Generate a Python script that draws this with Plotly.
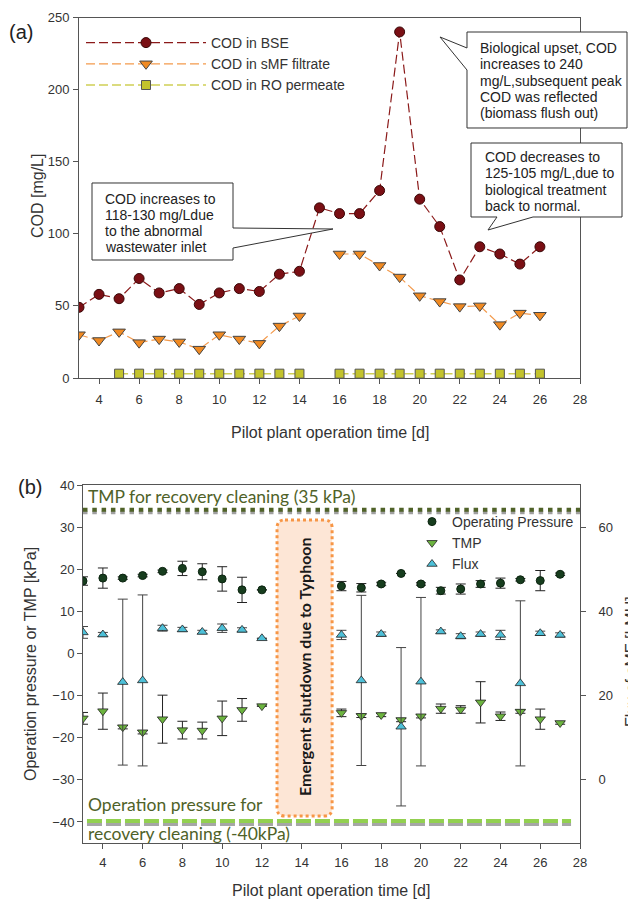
import plotly.graph_objects as go

W, H = 628, 900
FONT = "Liberation Sans, Arial, sans-serif"
CAL = "Lato, Open Sans, sans-serif"

# ---------------- panel (a) data ----------------
days_a = [3, 4, 5, 6, 7, 8, 9, 10, 11, 12, 13, 14, 15, 16, 17, 18, 19, 20, 21, 22, 23, 24, 25, 26]
cod_bse = [49, 58, 55, 69, 59, 62, 51, 59, 62, 60, 72, 74, 118, 114, 114, 130, 240, 124, 105, 68, 91, 86, 79, 91]
cod_smf = [30, 26, 32, 24.5, 27, 25, 20, 30, 27, 24, 36, 43, None, 86, 86, 78, 70, 57, 53, 49.5, 50, 37, 45, 43.5]
cod_ro = [None, None, 3, 3, 3, 3, 3, 3, 3, 3, 3, 3, None, 3, 3, 3, 3, 3, 3, 3, 3, 3, 3, 3]
day_ticks = [4, 6, 8, 10, 12, 14, 16, 18, 20, 22, 24, 26, 28]
cod_ticks = [0, 50, 100, 150, 200, 250]

# ---------------- panel (b) data ----------------
days_b = [3, 4, 5, 6, 7, 8, 9, 10, 11, 12, 16, 17, 18, 19, 20, 21, 22, 23, 24, 25, 26, 27]
op_pressure = [17.2, 17.9, 17.9, 18.5, 19.5, 20.2, 19.4, 17.7, 15.1, 15.1, 16.0, 15.6, 16.5, 19.0, 16.5, 14.9, 15.3, 16.5, 16.7, 17.5, 17.3, 18.8]
op_err = [1.0, 2.4, 0.3, 0.3, 0.3, 1.7, 1.9, 2.9, 3.0, None, 1.1, 1.0, 0.4, None, 0.3, 0.8, 1.2, 0.8, 1.2, 0.3, 2.4, 0.3]
tmp = [-15.4, -13.7, -17.5, -18.7, -15.6, -18.2, -18.3, -15.4, -13.4, -12.5, -14.1, -14.8, -14.6, -15.8, -14.9, -13.1, -13.3, -11.6, -14.9, -13.8, -15.6, -16.5]
tmp_err = [1.4, 4.3, 0.4, 0.4, 5.7, 2.1, 2.0, 4.1, 2.7, None, 0.9, 0.4, 0.4, 0.4, 0.4, 1.1, 0.9, 4.9, 1.0, 0.4, 2.4, 0.3]
flux = [35.0, 34.5, 23.2, 23.6, 36.0, 35.7, 35.1, 36.0, 35.6, 33.6, 34.4, 23.6, 34.6, 12.6, 23.3, 35.2, 34.1, 34.6, 34.4, 22.9, 34.8, 34.4]
flux_err = [1.4, 0.5, 19.7, 20.3, 0.7, 0.5, 0.4, 1.0, 0.5, None, 1.1, 20.2, 0.5, 18.8, 20.0, 0.4, 0.6, 0.5, 1.1, 19.6, 0.5, 0.5]
p_ticks = [-40, -30, -20, -10, 0, 10, 20, 30, 40]
flux_ticks = [0, 20, 40, 60]
tmp_clean_level = 34
op_clean_level = -40
shutdown_days = [12.76, 15.53]
shutdown_span = [-38.6, 31.7]


def px(x):
    return x / W


def py(y):
    return 1 - y / H


fig = go.Figure()

# ---- panel (a) traces ----
fig.add_trace(go.Scatter(
    x=days_a, y=cod_bse, name="COD in BSE", mode="lines+markers",
    line=dict(color="#8b1a1a", width=1.2, dash="9px,4px"),
    marker=dict(symbol="circle", size=10, color="#7a0f14", line=dict(color="#3a0808", width=1)),
    xaxis="x", yaxis="y", legend="legend"))
fig.add_trace(go.Scatter(
    x=days_a, y=cod_smf, name="COD in sMF filtrate", mode="lines+markers",
    line=dict(color="#f39a4c", width=1.2, dash="9px,4px"), connectgaps=False,
    marker=dict(symbol="triangle-down", size=11, color="#f08a22", line=dict(color="#444", width=1)),
    xaxis="x", yaxis="y", legend="legend"))
fig.add_trace(go.Scatter(
    x=days_a, y=cod_ro, name="COD in RO permeate", mode="lines+markers",
    line=dict(color="#cfcf55", width=1.5, dash="9px,4px"), connectgaps=False,
    marker=dict(symbol="square", size=9, color="#c3c32c", line=dict(color="#555", width=1)),
    xaxis="x", yaxis="y", legend="legend"))

# ---- panel (b) traces ----
fig.add_trace(go.Scatter(
    x=days_b, y=op_pressure, name="Operating Pressure", mode="markers",
    marker=dict(symbol="circle", size=8, color="#173d1e", line=dict(color="#0c2410", width=1)),
    error_y=dict(type="data", array=op_err, visible=True, color="#222", thickness=1, width=5),
    xaxis="x2", yaxis="y2", legend="legend2"))
fig.add_trace(go.Scatter(
    x=days_b, y=tmp, name="TMP", mode="markers",
    marker=dict(symbol="triangle-down", size=9, color="#6cb43f", line=dict(color="#222", width=0.8)),
    error_y=dict(type="data", array=tmp_err, visible=True, color="#222", thickness=1, width=5),
    xaxis="x2", yaxis="y2", legend="legend2"))
fig.add_trace(go.Scatter(
    x=days_b, y=flux, name="Flux", mode="markers",
    marker=dict(symbol="triangle-up", size=9, color="#4dc0d8", line=dict(color="#222", width=0.8)),
    error_y=dict(type="data", array=flux_err, visible=True, color="#444", thickness=1, width=5),
    xaxis="x2", yaxis="y3", legend="legend2"))

axis_common = dict(showline=True, linecolor="#555", linewidth=1, ticks="outside", ticklen=5,
                   tickcolor="#555", showgrid=False, zeroline=False, automargin=False,
                   tickfont=dict(family=FONT, size=13, color="#333"))

shapes = []
annotations = []


def label(text, x, y, size=16, angle=0, anchor="center", family=FONT, color="#333"):
    annotations.append(dict(text=text, xref="paper", yref="paper", x=px(x), y=py(y),
                            xanchor=anchor, yanchor="middle", showarrow=False, textangle=angle,
                            font=dict(family=family, size=size, color=color)))


# ---- callouts panel (a) ----
callouts = [
    ([(92, 183), (233, 183), (233, 228), (333, 229), (233, 248), (233, 260), (92, 260)],
     ["COD increases to", "118-130 mg/Ldue", "to the abnormal", "wastewater inlet"], 103, 198.5),
    ([(467, 32), (627, 32), (627, 128), (467, 128), (467, 70), (440, 37), (467, 48)],
     ["Biological upset, COD", "increases to 240", "mg/L,subsequent peak", "COD was reflected", "(biomass flush out)"], 478, 48),
    ([(471, 143), (622, 143), (622, 217), (533, 217), (488, 230), (497, 217), (471, 217)],
     ["COD decreases to", "125-105 mg/L,due to", "biological treatment", "back to normal."], 483, 157),
]
for pts, lines, tx, ty in callouts:
    path = "M " + " L ".join(f"{px(a):.5f},{py(b):.5f}" for a, b in pts) + " Z"
    shapes.append(dict(type="path", xref="paper", yref="paper", path=path,
                       fillcolor="white", line=dict(color="#333", width=1), layer="above"))
    for i, t in enumerate(lines):
        label(t, tx, ty + i * 16.3, size=14, anchor="left", color="#222")

# ---- panel (b) decorations ----
x0, x1 = shutdown_days
y0, y1 = shutdown_span
rx, ry = 0.4, 1.9
rpath = (f"M {x0+rx},{y1} L {x1-rx},{y1} Q {x1},{y1} {x1},{y1-ry} L {x1},{y0+ry} "
         f"Q {x1},{y0} {x1-rx},{y0} L {x0+rx},{y0} Q {x0},{y0} {x0},{y0+ry} "
         f"L {x0},{y1-ry} Q {x0},{y1} {x0+rx},{y1} Z")
shapes.append(dict(type="path", xref="x2", yref="y2", path=rpath, fillcolor="#fde6d6",
                   line=dict(color="#f79646", width=3, dash="dot"), layer="below"))

shapes.append(dict(type="line", xref="x2", yref="y2", x0=3, x1=28,
                   y0=tmp_clean_level - 0.55, y1=tmp_clean_level - 0.55,
                   line=dict(color="#a0a0a0", width=3.5, dash="4.5px,4.8px"), layer="below"))
shapes.append(dict(type="line", xref="x2", yref="y2", x0=3, x1=28,
                   y0=tmp_clean_level + 0.15, y1=tmp_clean_level + 0.15,
                   line=dict(color="#4f6228", width=4, dash="4.5px,4.8px"), layer="below"))
shapes.append(dict(type="line", xref="x2", yref="y2", x0=3.2, x1=27.55,
                   y0=op_clean_level - 0.55, y1=op_clean_level - 0.55,
                   line=dict(color="#a6a6a6", width=3.5, dash="15px,4px"), layer="below"))
shapes.append(dict(type="line", xref="x2", yref="y2", x0=3.2, x1=27.55,
                   y0=op_clean_level + 0.2, y1=op_clean_level + 0.2,
                   line=dict(color="#92d050", width=4, dash="15px,4px"), layer="below"))

for t, xx, yy in [("TMP for recovery cleaning (35 kPa)", 86, 497),
                  ("Operation pressure for", 86, 804),
                  ("recovery cleaning (-40kPa)", 86, 833)]:
    label(t, xx, yy, size=17.5, anchor="left", family=CAL, color="#4f6228")

label("<b>Emergent shutdown due to Typhoon</b>", 304, 667, size=16, angle=-90, family=CAL, color="#1a1a1a")

# panel labels and axis titles
label("(a)", 7, 32, size=20, anchor="left", color="#222")
label("(b)", 16, 487, size=20, anchor="left", color="#222")
label("COD [mg/L]", 38, 196, angle=-90)
label("Pilot plant operation time [d]", 330, 433)
label("Operation pressure or TMP [kPa]", 30, 664, angle=-90)
label("Pilot plant operation time [d]", 331, 890)
label("Flux of sMF [LMH]", 631, 662, angle=-90)

fig.update_layout(
    width=W, height=H, margin=dict(l=0, r=0, t=0, b=0),
    paper_bgcolor="white", plot_bgcolor="white",
    font=dict(family=FONT, color="#333"),
    xaxis=dict(domain=[px(79), px(580)], range=[3, 28], tickvals=day_ticks, anchor="y", mirror=True,
               ticklabelstandoff=4, **axis_common),
    yaxis=dict(domain=[py(378), py(17.5)], range=[0, 250], tickvals=cod_ticks, anchor="x", mirror=True,
               ticklabelstandoff=1, **axis_common),
    xaxis2=dict(domain=[px(83), px(580)], range=[3, 28], tickvals=day_ticks, anchor="y2", mirror=True,
                ticklabelstandoff=2, **axis_common),
    yaxis2=dict(domain=[py(843), py(485)], range=[-45, 40], tickvals=p_ticks, anchor="x2",
                ticklabelstandoff=0, **axis_common),
    yaxis3=dict(range=[-15, 70], tickvals=flux_ticks, overlaying="y2", side="right", anchor="x2",
                ticklabelstandoff=10, **axis_common),
    legend=dict(x=px(81), y=py(27), xanchor="left", yanchor="top", bgcolor="rgba(0,0,0,0)",
                font=dict(family=FONT, size=14, color="#333"), itemwidth=120, tracegroupgap=0),
    legend2=dict(x=px(412), y=py(506), xanchor="left", yanchor="top", bgcolor="rgba(0,0,0,0)",
                 font=dict(family=FONT, size=14, color="#333"), tracegroupgap=0),
    shapes=shapes, annotations=annotations, showlegend=True,
)

fig.write_html("out.html", config={"displayModeBar": False},
               post_script="document.body.style.margin='0';document.body.style.overflow='hidden';")
